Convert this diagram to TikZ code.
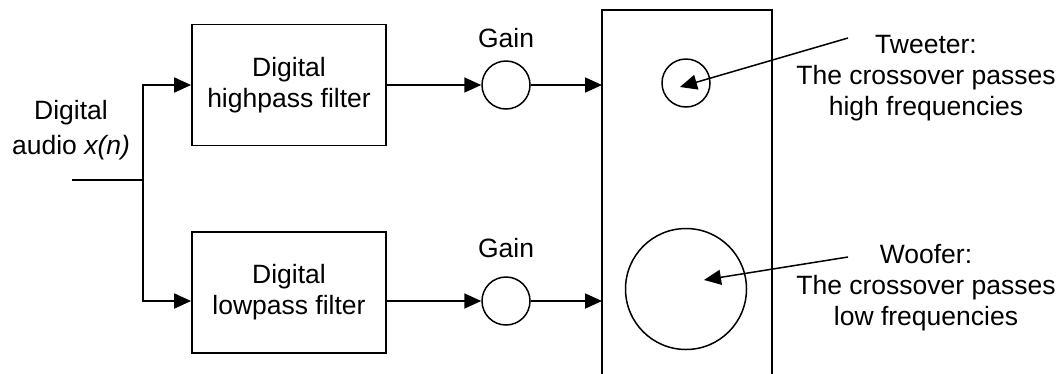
\documentclass[tikz,border=0pt]{standalone}
\usepackage{fontspec}
\setmainfont{Liberation Sans}
\usetikzlibrary{arrows.meta}
\begin{document}
\begin{tikzpicture}[x=1pt,y=-1pt,
  line width=1.8pt,
  >={Triangle[length=17pt,width=15pt]},
  txt/.style={font=\fontsize{26.5}{31}\selectfont, align=center, inner sep=0pt},
  blockbox/.style={draw, rectangle, minimum width=194pt, minimum height=121pt,
    font=\fontsize{26.5}{31}\selectfont, align=center},
  gaincirc/.style={draw, circle, line width=1.5pt, minimum size=48pt, inner sep=0pt},
  cone/.style={draw, circle, line width=1.5pt, inner sep=0pt}]
  \useasboundingbox (0,0) rectangle (1062,373);

  % input and branch point
  \node[txt, font=\fontsize{26.5}{35}\selectfont] (inlab) at (71,130) {Digital\\audio \textit{x(n)}};
  \coordinate (src) at (72,180);
  \coordinate (jn) at (143,180);

  % filters
  \node[blockbox] (hp) at (289,85) {Digital\\highpass filter};
  \node[blockbox] (lp) at (289,292.5) {Digital\\lowpass filter};

  % gain stages
  \node[gaincirc] (g1) at (506,85) {};
  \node[gaincirc] (g2) at (506,301) {};
  \node[txt] (g1lab) at (506,38) {Gain};
  \node[txt] (g2lab) at (506,248) {Gain};

  % loudspeaker cabinet (open at the bottom edge)
  \coordinate (cabBL) at (602,375);
  \coordinate (cabTL) at (602,10);
  \coordinate (cabTR) at (772,10);
  \coordinate (cabBR) at (772,375);
  \draw (cabBL) -- (cabTL) -- (cabTR) -- (cabBR);
  \coordinate (cabIn1) at (602,85);
  \coordinate (cabIn2) at (602,301);

  % drivers
  \node[cone, minimum size=48pt] (tw) at (686,83) {};
  \node[cone, minimum size=121pt] (wf) at (686,289) {};

  % driver labels
  \node[txt] (twlab) at (926,78) {Tweeter:\\The crossover passes\\high frequencies};
  \node[txt] (wflab) at (926,288) {Woofer:\\The crossover passes\\low frequencies};
  \coordinate (twFrom) at (848,38);
  \coordinate (twTip) at (680,87);
  \coordinate (wfFrom) at (848,257);
  \coordinate (wfTip) at (704,280);

  % signal path
  \draw (src) -- (jn);
  \draw[->] (jn) |- (hp.west);
  \draw[->] (jn) |- (lp.west |- g2.center);
  \draw[->] (hp.east |- g1.center) -- (g1);
  \draw[->] (lp.east |- g2.center) -- (g2);
  \draw[->] (g1) -- (cabIn1);
  \draw[->] (g2) -- (cabIn2);

  % pointers to the drivers
  \draw[->, line width=1.5pt] (twFrom) -- (twTip);
  \draw[->, line width=1.5pt] (wfFrom) -- (wfTip);
\end{tikzpicture}
\end{document}
